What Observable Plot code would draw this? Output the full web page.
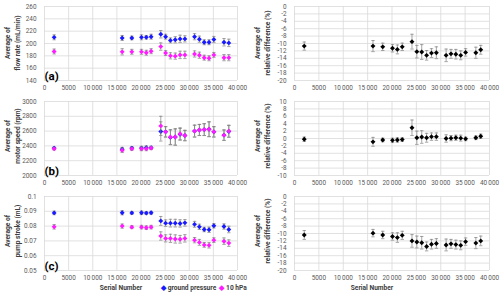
<!DOCTYPE html>
<html><head><meta charset="utf-8">
<script src="https://cdn.jsdelivr.net/npm/d3@7"></script>
<script src="https://cdn.jsdelivr.net/npm/@observablehq/plot@0.6"></script>
<style>
body{margin:0;background:#fff;}
#root{position:relative;width:500px;height:297px;overflow:hidden;font-family:Roboto,"Open Sans",sans-serif;background:#fff;}
.panel{position:absolute;}
.ytitle{position:absolute;transform:translate(-50%,-50%) rotate(-90deg);white-space:nowrap;text-align:center;font-weight:bold;font-size:6.6px;line-height:10px;color:#404040;}
.xtitle{position:absolute;transform:translate(-50%,-50%);white-space:nowrap;font-weight:bold;font-size:6.6px;color:#404040;}
.leg{position:absolute;transform:translateY(-50%);white-space:nowrap;font-weight:bold;font-size:6.6px;color:#404040;}
</style></head><body><div id="root"></div>
<script>
// ---- data ----
const serial = [2000, 16100, 18100, 20100, 21100, 22100, 24100, 25100, 26100, 27100, 28100, 29100, 31100, 32100, 33100, 34100, 35100, 37200, 38200];

const flowGround    = [210, 209, 209, 210, 210, 211, 215, 211, 205, 206, 207.5, 207.5, 211, 207, 202, 202, 206.5, 202, 201];
const flowGroundErr = [4, 4, 3, 4, 3, 4, 6, 4, 4, 5, 6, 5, 5, 5, 4, 4, 5, 6, 6];
const flow10        = [187, 186.5, 186.5, 186.5, 185, 187.5, 195, 184.5, 180, 179.5, 181.5, 181.5, 183, 181, 177, 176, 181.5, 177, 177];
const flow10Err     = [4, 5, 4, 4, 4, 4, 6, 4, 5, 5, 6, 6, 5, 5, 4, 4, 4, 5, 5];

const motorGround    = [2370, 2355, 2370, 2370, 2375, 2375, 2595, 2590, 2515, 2520, 2555, 2540, 2600, 2615, 2620, 2625, 2590, 2545, 2595];
const motorGroundErr = [15, 25, 20, 25, 25, 20, 130, 70, 100, 110, 80, 70, 80, 75, 80, 100, 70, 70, 80];
const motor10        = [2360, 2340, 2360, 2360, 2360, 2370, 2670, 2590, 2520, 2520, 2565, 2540, 2600, 2615, 2620, 2625, 2590, 2545, 2600];
const motor10Err     = [15, 30, 20, 25, 25, 20, 130, 70, 100, 110, 80, 70, 80, 75, 80, 100, 70, 70, 80];

const pumpGround    = [0.0889, 0.089, 0.0889, 0.089, 0.0888, 0.089, 0.0835, 0.082, 0.082, 0.082, 0.0818, 0.0822, 0.0812, 0.0795, 0.0777, 0.0775, 0.0802, 0.0797, 0.0777];
const pumpGroundErr = [0.0012, 0.0014, 0.001, 0.0012, 0.001, 0.001, 0.003, 0.0022, 0.0026, 0.0026, 0.0025, 0.0022, 0.002, 0.0018, 0.0015, 0.0018, 0.0015, 0.0018, 0.0022];
const pump10        = [0.0795, 0.080, 0.0793, 0.0793, 0.0789, 0.0793, 0.0733, 0.0717, 0.0717, 0.0713, 0.0711, 0.0717, 0.0705, 0.069, 0.0673, 0.067, 0.0705, 0.0698, 0.0685];
const pump10Err     = [0.0015, 0.0014, 0.001, 0.0012, 0.0012, 0.0012, 0.0028, 0.0024, 0.0028, 0.0028, 0.0026, 0.0025, 0.0018, 0.002, 0.0016, 0.0018, 0.0016, 0.0022, 0.0022];

const relFlow     = [-10.7, -10.7, -10.9, -11.3, -11.6, -10.9, -9.5, -12.2, -12.3, -13.2, -12.6, -12.5, -13.2, -12.8, -12.9, -13.2, -12.4, -12.5, -11.7];
const relFlowErr  = [1.1, 1.5, 1, 1, 1.2, 1, 2, 1.7, 2, 1.3, 1.2, 1.6, 1.7, 1.2, 1.3, 1.2, 1, 1.5, 1.2];
const relMotor    = [-0.2, -0.9, -0.4, -0.5, -0.4, -0.3, 2.9, 0.2, 0.4, 0.2, 0.5, 0.5, 0.0, 0.1, 0.2, 0.1, -0.1, 0.2, 0.6];
const relMotorErr = [0.6, 1.2, 0.5, 0.6, 0.6, 0.5, 2.1, 1.8, 1.7, 1.2, 1, 1, 1, 0.7, 0.7, 0.8, 0.5, 0.5, 0.6];
const relPump     = [-10.4, -9.9, -10.4, -10.8, -11.1, -10.5, -12.0, -12.3, -12.5, -13.5, -12.9, -12.7, -13.1, -12.8, -13.0, -13.2, -12.2, -12.6, -12.0];
const relPumpErr  = [1.2, 1, 1, 1, 1.3, 1.1, 1.7, 1.6, 1.7, 1.2, 1.3, 1.3, 1.6, 1.2, 1.2, 1.2, 1, 1.5, 1.3];

const xTicks = [0, 5000, 10000, 15000, 20000, 25000, 30000, 35000, 40000];
const xTickLabels = ["0", "5000", "10\u2009000", "15\u2009000", "20\u2009000", "25\u2009000", "30\u2009000", "35\u2009000", "40\u2009000"];
const flowTicks = [140, 160, 180, 200, 220, 240, 260];
const motorTicks = [2000, 2200, 2400, 2600, 2800, 3000];
const pumpTicks = [0.05, 0.06, 0.07, 0.08, 0.09, 0.1];
const pumpTickLabels = ["0.05", "0.06", "0.07", "0.08", "0.09", "0.1"];
const relFlowTicks = [-20, -18, -16, -14, -12, -10, -8, -6, -4, -2, 0];
const relMotorTicks = [-10, -8, -6, -4, -2, 0, 2, 4, 6, 8, 10];

const seriesNames = ["ground pressure", "10 hPa"];
const colGround = "#1a1aff", col10 = "#ff1aff", colRel = "#000000", colErr = "#7f7f7f";

// ---- drawing ----
const root = document.getElementById("root");
const cap = {draw(ctx, size) { const r = Math.sqrt(size / Math.PI); ctx.moveTo(-r, 0); ctx.lineTo(r, 0); }};

function rows(vals, errs) { return serial.map((x, i) => ({x, y: vals[i], e: errs[i]})); }

function panel({left, top, width, mL, mR, yTicks, yLabels, series, tag}) {
  const marks = [
    Plot.gridX(xTicks, {stroke: "#d9d9d9", strokeOpacity: 1, strokeWidth: 0.8}),
    Plot.gridY(yTicks, {stroke: "#d9d9d9", strokeOpacity: 1, strokeWidth: 0.8}),
    Plot.axisX(xTicks, {tickSize: 0, tickPadding: 5, label: null, tickFormat: d => xTickLabels[xTicks.indexOf(d)]}),
    Plot.axisY(yTicks, {tickSize: 0, tickPadding: 8, label: null, tickFormat: d => yLabels ? yLabels[yTicks.indexOf(d)] : String(d)})
  ];
  for (const s of series) {
    const d = rows(s.values, s.errors);
    marks.push(Plot.ruleX(d, {x: "x", y1: r => r.y - r.e, y2: r => r.y + r.e, stroke: colErr, strokeWidth: 0.7}));
    marks.push(Plot.dot(d, {x: "x", y: r => r.y - r.e, symbol: cap, r: 1.7, stroke: colErr, strokeWidth: 0.7, fill: "none"}));
    marks.push(Plot.dot(d, {x: "x", y: r => r.y + r.e, symbol: cap, r: 1.7, stroke: colErr, strokeWidth: 0.7, fill: "none"}));
    marks.push(Plot.dot(d, {x: "x", y: "y", symbol: "diamond2", r: 2.2, fill: s.color, stroke: "none"}));
  }
  if (tag) marks.push(Plot.text([tag], {frameAnchor: "bottom-left", text: d => d, dx: 0, dy: -1, fontSize: 11.5, fontWeight: "bold", fill: "#000"}));
  const chart = Plot.plot({
    width, height: 95, marginLeft: mL, marginRight: mR, marginTop: 6, marginBottom: 15,
    x: {domain: [0, 40000]},
    y: {domain: [yTicks[0], yTicks[yTicks.length - 1]]},
    style: {fontFamily: "Roboto, 'Open Sans', sans-serif", fontSize: "6.4px", color: "#595959", background: "transparent", overflow: "visible"},
    marks
  });
  chart.classList.add("panel");
  chart.style.left = left + "px";
  chart.style.top = top + "px";
  root.appendChild(chart);
}

function ytitle(cx, cy, l1, l2) {
  const d = document.createElement("div");
  d.className = "ytitle";
  d.style.left = cx + "px"; d.style.top = cy + "px";
  d.innerHTML = l1 + "<br>" + l2;
  root.appendChild(d);
}
function xtitle(cx, cy, t) {
  const d = document.createElement("div");
  d.className = "xtitle";
  d.style.left = cx + "px"; d.style.top = cy + "px";
  d.textContent = t;
  root.appendChild(d);
}

const L = {left: 0, width: 240, mL: 44, mR: 3};
const R = {left: 250, width: 250, mL: 44, mR: 11};

panel({...L, top: 0, yTicks: flowTicks, series: [{values: flowGround, errors: flowGroundErr, color: colGround}, {values: flow10, errors: flow10Err, color: col10}], tag: "(a)"});
panel({...L, top: 95, yTicks: motorTicks, series: [{values: motorGround, errors: motorGroundErr, color: colGround}, {values: motor10, errors: motor10Err, color: col10}], tag: "(b)"});
panel({...L, top: 190, yTicks: pumpTicks, yLabels: pumpTickLabels, series: [{values: pumpGround, errors: pumpGroundErr, color: colGround}, {values: pump10, errors: pump10Err, color: col10}], tag: "(c)"});

panel({...R, top: 0, yTicks: relFlowTicks, series: [{values: relFlow, errors: relFlowErr, color: colRel}]});
panel({...R, top: 95, yTicks: relMotorTicks, series: [{values: relMotor, errors: relMotorErr, color: colRel}]});
panel({...R, top: 190, yTicks: relFlowTicks, series: [{values: relPump, errors: relPumpErr, color: colRel}]});

ytitle(13, 43, "Average of", "flow rate (mL/min)");
ytitle(13, 136, "Average of", "motor speed (rpm)");
ytitle(13, 231, "Average of", "pump stroke (mL)");
ytitle(263, 43, "Average of", "relative difference (%)");
ytitle(263, 136, "Average of", "relative difference (%)");
ytitle(263, 231, "Average of", "relative difference (%)");

xtitle(121, 288, "Serial Number");
xtitle(372, 288, "Serial Number");

const leg = document.createElement("div");
leg.className = "leg";
leg.style.left = "161px"; leg.style.top = "288px";
leg.innerHTML = `<span style="color:${colGround}">&#9670;</span> ${seriesNames[0]}&nbsp;&nbsp;<span style="color:${col10}">&#9670;</span> ${seriesNames[1]}`;
root.appendChild(leg);
</script></body></html>
